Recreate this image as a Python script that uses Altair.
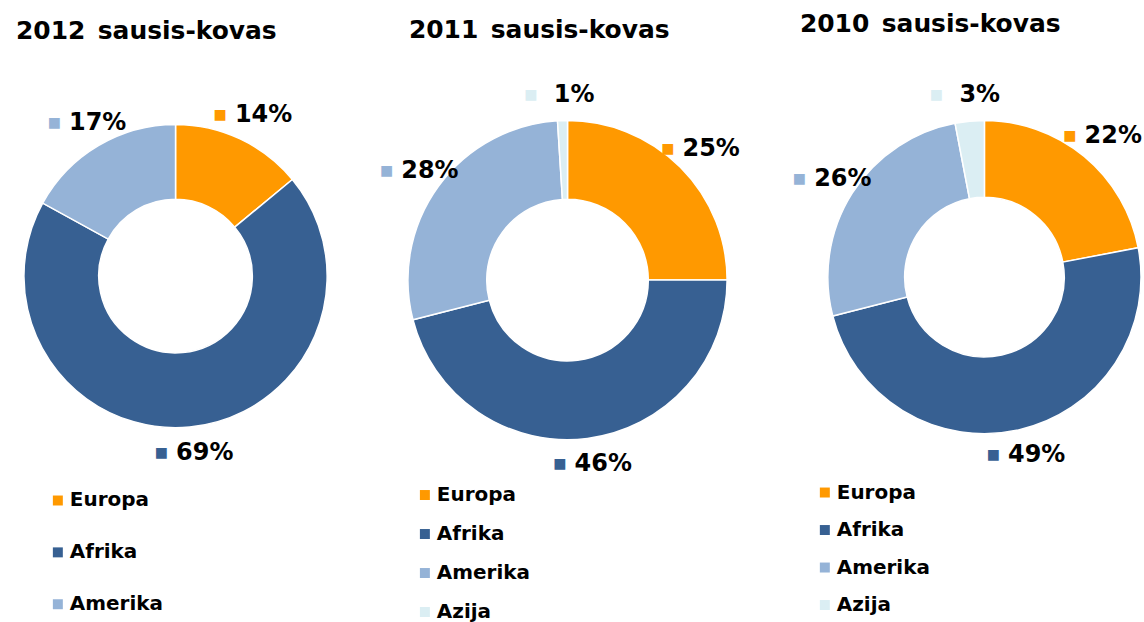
import altair as alt
import pandas as pd

regions = ["Europa", "Afrika", "Amerika", "Azija"]
colors = ["#FF9900", "#376092", "#95B3D7", "#DBEEF3"]
titles = ["2012\u2002sausis-kovas", "2011\u2002sausis-kovas", "2010\u2002sausis-kovas"]
values_2012 = [14, 69, 17]
values_2011 = [25, 46, 28, 1]
values_2010 = [22, 49, 26, 3]

FONT = "DejaVu Sans"

layouts = [
    dict(w=376, cx=176, cy=276, r=152, ri=77, tx=16, ty=38, lx=48, ly=491, rp=32),
    dict(w=380, cx=193, cy=280, r=160, ri=81, tx=34, ty=37, lx=40, ly=485.5, rp=19.1),
    dict(w=388, cx=231, cy=277, r=157, ri=80, tx=46, ty=31, lx=61, ly=483, rp=17.6),
]
series = [values_2012, values_2011, values_2010]


def panel(title, values, p):
    n = len(values)
    df = pd.DataFrame({
        "region": regions[:n],
        "value": values,
        "ord": list(range(n)),
        "label": [f"{v}%" for v in values],
    })
    color = alt.Color(
        "region:N",
        scale=alt.Scale(domain=regions[:n], range=colors[:n]),
        legend=alt.Legend(
            title=None, orient="none", legendX=p["lx"], legendY=p["ly"],
            direction="vertical", symbolType="square", symbolSize=100,
            symbolStrokeWidth=0, labelFont=FONT, labelFontSize=20,
            labelFontWeight="bold", labelColor="black", rowPadding=p["rp"],
            labelOffset=2, padding=0,
        ),
    )
    base = alt.Chart(df).encode(
        theta=alt.Theta("value:Q", stack=True),
        order=alt.Order("ord:Q"),
        x=alt.value(p["cx"]),
        y=alt.value(p["cy"]),
    )
    arcs = base.mark_arc(
        outerRadius=p["r"], innerRadius=p["ri"], stroke="white", strokeWidth=1.5
    ).encode(color=color)
    R = p["r"] + 26
    squares = base.mark_text(
        radius=R, dx=-31, fontSize=14, font=FONT, align="center", baseline="middle"
    ).encode(text=alt.value("■"), color=color)
    texts = base.mark_text(
        radius=R, dx=12.5, fontSize=24, font=FONT, fontWeight="bold",
        align="center", baseline="middle", color="black",
    ).encode(text="label:N", detail="region:N")
    ttl = alt.Chart(pd.DataFrame({"t": [title]})).mark_text(
        align="left", baseline="alphabetic", fontSize=25, fontWeight="bold",
        font=FONT, color="black",
    ).encode(text="t:N", x=alt.value(p["tx"]), y=alt.value(p["ty"]))
    return alt.layer(arcs, squares, texts, ttl).properties(width=p["w"], height=622)


chart = (
    alt.hconcat(*[panel(t, v, p) for t, v, p in zip(titles, series, layouts)],
                spacing=0, bounds="flush")
    .resolve_scale(color="independent")
    .resolve_legend(color="independent")
    .configure_view(stroke=None)
    .properties(padding=0)
)

chart.save("out.html", embed_options={"renderer": "svg", "actions": False})
